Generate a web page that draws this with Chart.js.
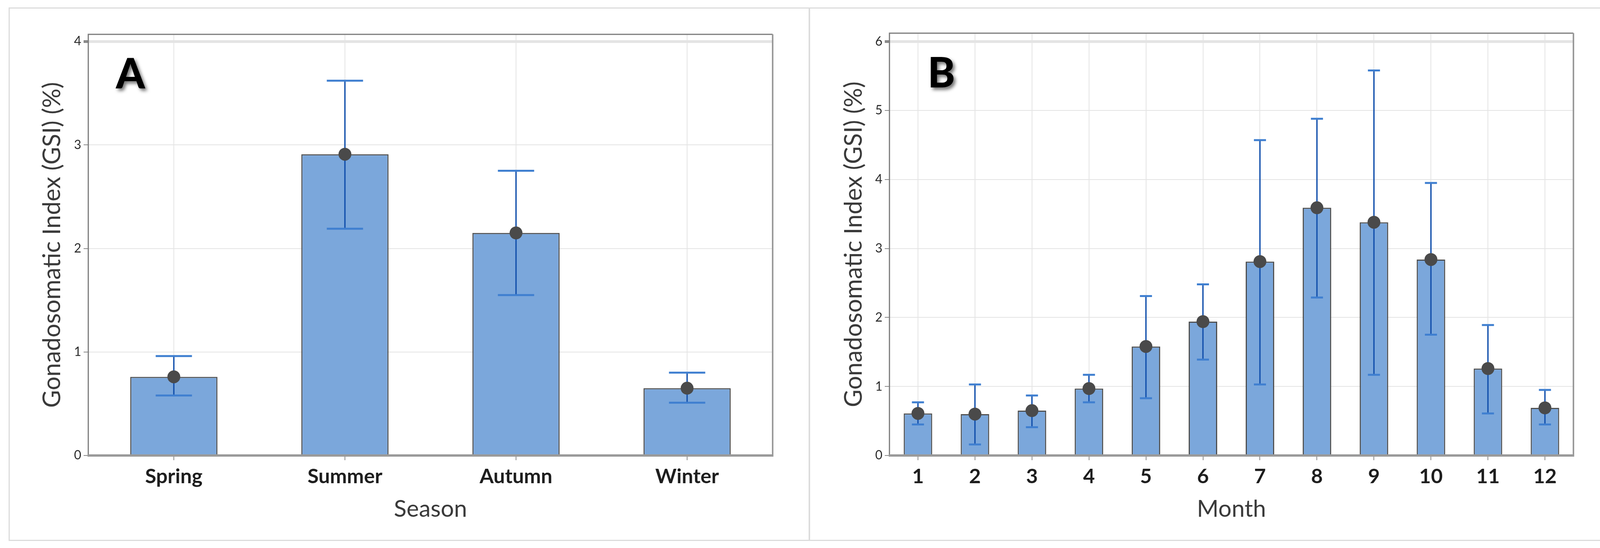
<!DOCTYPE html>
<html>
<head>
<meta charset="utf-8">
<script src="https://cdn.jsdelivr.net/npm/chart.js@4.4.1/dist/chart.umd.min.js"></script>
<style>
  html, body { margin:0; padding:0; background:#ffffff; }
  body { width:4143px; height:1404px; position:relative; overflow:hidden; }
  .panel { position:absolute; border:3px solid #dcdcdc; box-sizing:border-box; }
  canvas { position:absolute; top:0; }
</style>
</head>
<body>
<div class="panel" style="left:22px;top:19px;width:2052px;height:1367px;"></div>
<div class="panel" style="left:2070px;top:19px;width:2053px;height:1367px;"></div>
<canvas id="cA" width="2071" height="1404" style="left:0px;width:2071px;height:1404px;"></canvas>
<canvas id="cB" width="2072" height="1404" style="left:2071px;width:2072px;height:1404px;"></canvas>
<script>
// ---------- DATA ----------
const seasons = ['Spring', 'Summer', 'Autumn', 'Winter'];
const seasonMean = [0.76, 2.91, 2.15, 0.65];
const seasonLow  = [0.58, 2.19, 1.55, 0.51];
const seasonHigh = [0.96, 3.62, 2.75, 0.80];
const seasonYTicks = [0, 1, 2, 3, 4];

const months = ['1', '2', '3', '4', '5', '6', '7', '8', '9', '10', '11', '12'];
const monthMean = [0.61, 0.60, 0.65, 0.97, 1.58, 1.94, 2.81, 3.59, 3.38, 2.84, 1.26, 0.69];
const monthLow  = [0.45, 0.16, 0.41, 0.77, 0.83, 1.39, 1.03, 2.29, 1.17, 1.75, 0.61, 0.45];
const monthHigh = [0.77, 1.03, 0.87, 1.17, 2.31, 2.48, 4.57, 4.88, 5.58, 3.95, 1.89, 0.95];
const monthYTicks = [0, 1, 2, 3, 4, 5, 6];

const yTitle = 'Gonadosomatic Index (GSI) (%)';

// ---------- STYLE ----------
const FONT = "Lato, 'Open Sans', 'Liberation Sans', sans-serif";
const BAR_FILL = '#7ba7db';
const BAR_EDGE = '#4f4f4f';
const ERR_LINE = '#1552ad';
const ERR_CAP = '#3f7fd0';
const PT_COLOR = '#4a4a4a';

const errorBarPlugin = {
  id: 'errorBars',
  afterDatasetDraw(chart, args, opts) {
    if (args.index !== 0) return;
    const x = chart.scales.x, y = chart.scales.y;
    const ctx = chart.ctx;
    const step = x.getPixelForValue(1) - x.getPixelForValue(0);
    const half = step * opts.capFrac;
    ctx.save();
    opts.low.forEach((lo, i) => {
      const cx = x.getPixelForValue(i);
      const yl = y.getPixelForValue(lo);
      const yh = y.getPixelForValue(opts.high[i]);
      ctx.strokeStyle = ERR_LINE;
      ctx.lineWidth = 3.5;
      ctx.beginPath();
      ctx.moveTo(cx, yl); ctx.lineTo(cx, yh);
      ctx.stroke();
      ctx.strokeStyle = ERR_CAP;
      ctx.lineWidth = 5;
      ctx.beginPath();
      ctx.moveTo(cx - half, yl); ctx.lineTo(cx + half, yl);
      ctx.moveTo(cx - half, yh); ctx.lineTo(cx + half, yh);
      ctx.stroke();
    });
    ctx.restore();
  }
};

const frameLetterPlugin = {
  id: 'frameLetter',
  afterDraw(chart, args, opts) {
    const a = chart.chartArea;
    const ctx = chart.ctx;
    ctx.save();
    ctx.strokeStyle = '#7a7a7a';
    ctx.lineWidth = 3;
    ctx.beginPath();
    ctx.moveTo(a.left, a.bottom); ctx.lineTo(a.left, a.top);
    ctx.lineTo(a.right, a.top);
    ctx.stroke();
    ctx.strokeStyle = '#9a9a9a';
    ctx.lineWidth = 4;
    ctx.beginPath();
    ctx.moveTo(a.right, a.top); ctx.lineTo(a.right, a.bottom);
    ctx.stroke();
    ctx.strokeStyle = '#9a9a9a';
    ctx.lineWidth = 6;
    ctx.beginPath();
    ctx.moveTo(a.left - 2, a.bottom); ctx.lineTo(a.right + 2, a.bottom);
    ctx.stroke();
    ctx.font = '900 106px ' + FONT;
    ctx.fillStyle = '#000000';
    ctx.textAlign = 'center';
    ctx.textBaseline = 'middle';
    ctx.shadowColor = 'rgba(0,0,0,0.55)';
    ctx.shadowBlur = 8;
    ctx.shadowOffsetX = 5;
    ctx.shadowOffsetY = 6;
    ctx.fillText(opts.letter, a.left + opts.dx, a.top + opts.dy);
    ctx.restore();
  }
};

function makeChart(id, cats, mean, low, high, yTicks, cfg) {
  return new Chart(document.getElementById(id), {
    type: 'bar',
    data: {
      labels: cats,
      datasets: [
        {
          type: 'bar',
          data: mean,
          backgroundColor: BAR_FILL,
          borderColor: BAR_EDGE,
          borderWidth: 3,
          borderSkipped: 'bottom',
          barPercentage: cfg.barPct,
          categoryPercentage: 1,
          order: 2
        },
        {
          type: 'line',
          data: mean,
          showLine: false,
          pointRadius: 16.5,
          pointHoverRadius: 16.5,
          pointBackgroundColor: PT_COLOR,
          pointBorderColor: PT_COLOR,
          pointBorderWidth: 0,
          order: 1
        }
      ]
    },
    options: {
      responsive: false,
      animation: false,
      devicePixelRatio: 1,
      layout: { padding: { left: cfg.padLeft, right: cfg.padRight, top: cfg.padTop, bottom: cfg.padBottom } },
      plugins: {
        legend: { display: false },
        tooltip: { enabled: false },
        errorBars: { low: low, high: high, capFrac: 0.106 },
        frameLetter: { letter: cfg.letter, dx: cfg.letterDx, dy: cfg.letterDy }
      },
      scales: {
        x: {
          offset: true,
          grid: { offset: false, color: '#e4e4e4', lineWidth: 2, tickColor: '#8a8a8a', tickLength: 12, drawOnChartArea: true },
          border: { display: false },
          ticks: { font: { family: FONT, size: 52, weight: 'bold', lineHeight: 1 }, color: '#1e1e1e', padding: 16 },
          title: { display: true, text: cfg.xTitle, font: { family: FONT, size: 60, lineHeight: 1 }, color: '#3a3a3a', padding: { top: 0, bottom: 32 } },
          afterFit(s) { s.height = 200; }
        },
        y: {
          min: 0,
          max: cfg.yMax,
          afterBuildTicks(s) { s.ticks = yTicks.map(v => ({ value: v })); },
          grid: {
            color: '#e4e4e4',
            lineWidth: (c) => (c.tick && c.tick.value === yTicks[yTicks.length - 1]) ? 7 : 2,
            tickColor: '#8a8a8a', tickLength: 12
          },
          border: { display: false },
          ticks: { font: { family: FONT, size: 32, lineHeight: 1 }, color: '#2a2a2a', padding: 6 },
          title: { display: true, text: yTitle, font: { family: FONT, size: 62, lineHeight: 1 }, color: '#3a3a3a', padding: { top: cfg.yTitlePad, bottom: 0 } },
          afterFit(s) { s.width = 180; }
        }
      }
    },
    plugins: [errorBarPlugin, frameLetterPlugin]
  });
}

makeChart('cA', seasons, seasonMean, seasonLow, seasonHigh, seasonYTicks, {
  barPct: 0.51, yMax: 4.068, xTitle: 'Season', letter: 'A',
  padLeft: 46, padRight: 93, padTop: 88, padBottom: 37, yTitlePad: 57,
  letterDx: 108, letterDy: 104
});
makeChart('cB', months, monthMean, monthLow, monthHigh, monthYTicks, {
  barPct: 0.5, yMax: 6.12, xTitle: 'Month', letter: 'B',
  padLeft: 26, padRight: 115, padTop: 85, padBottom: 37, yTitlePad: 58,
  letterDx: 133, letterDy: 105
});
</script>
</body>
</html>
